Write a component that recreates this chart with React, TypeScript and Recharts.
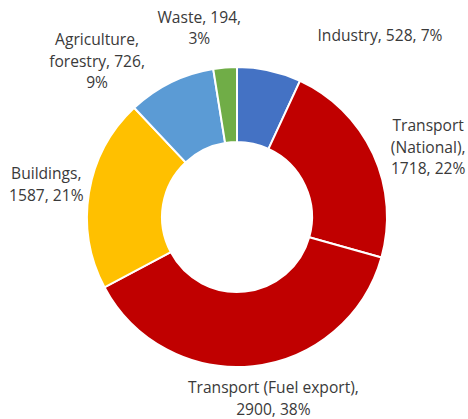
import React from 'react';
import { PieChart, Pie, Cell } from 'recharts';

// emissions by sector
const sectors = ['Industry', 'Transport (National)', 'Transport (Fuel export)', 'Buildings', 'Agriculture, forestry', 'Waste'];
const emissions = [528, 1718, 2900, 1587, 726, 194];
const sliceColors = ['#4472C4', '#C00000', '#C00000', '#FFC000', '#5B9BD5', '#70AD47'];

// label wrapping (max chars per line) and nudges from the default outside point
const wrapAt = [30, 11, 24, 10, 14, 11];
const labelNudge = [
  [106, -14],
  [35, 2],
  [18, 10],
  [-21, -5],
  [-64, -2],
  [-24, -18],
];

const total = emissions.reduce((a, b) => a + b, 0);
const data = sectors.map((name, i) => ({ name, value: emissions[i] }));

const wrap = (text: string, max: number) => {
  const words = text.split(' ');
  const lines: string[] = [];
  let cur = '';
  words.forEach(w => {
    const next = cur ? cur + ' ' + w : w;
    if (next.length > max && cur) {
      lines.push(cur);
      cur = w;
    } else {
      cur = next;
    }
  });
  if (cur) lines.push(cur);
  return lines;
};

const RAD = Math.PI / 180;
const LINE_H = 21.5;

const renderLabel = (props: any) => {
  const { cx, cy, midAngle, outerRadius, index, name, value } = props;
  const r = outerRadius + 22;
  const x = cx + r * Math.cos(-midAngle * RAD) + labelNudge[index][0];
  const y = cy + r * Math.sin(-midAngle * RAD) + labelNudge[index][1];
  const pct = Math.round((value / total) * 100);
  const lines = wrap(`${name}, ${value}, ${pct}%`, wrapAt[index]);
  const y0 = y - ((lines.length - 1) * LINE_H) / 2;
  return (
    <text
      key={`lbl-${index}`}
      x={x}
      y={y0}
      textAnchor="middle"
      dominantBaseline="central"
      fill="#3a3a3a"
      fontSize={15.6}
      fontFamily="'Open Sans', sans-serif"
    >
      {lines.map((l, j) => (
        <tspan key={j} x={x} y={y0 + j * LINE_H}>
          {l}
        </tspan>
      ))}
    </text>
  );
};

export default function App() {
  return (
    <div style={{ position: 'absolute', left: 0, top: 0, background: '#fff' }}>
      <PieChart width={468} height={419} margin={{ top: 0, right: 0, bottom: 0, left: 0 }}>
        <Pie
          data={data}
          dataKey="value"
          nameKey="name"
          cx={237}
          cy={217}
          innerRadius={75}
          outerRadius={150}
          startAngle={90}
          endAngle={-270}
          stroke="#fff"
          strokeWidth={2}
          label={renderLabel}
          labelLine={false}
          isAnimationActive={false}
        >
          {data.map((d, i) => (
            <Cell key={d.name} fill={sliceColors[i]} />
          ))}
        </Pie>
      </PieChart>
    </div>
  );
}
